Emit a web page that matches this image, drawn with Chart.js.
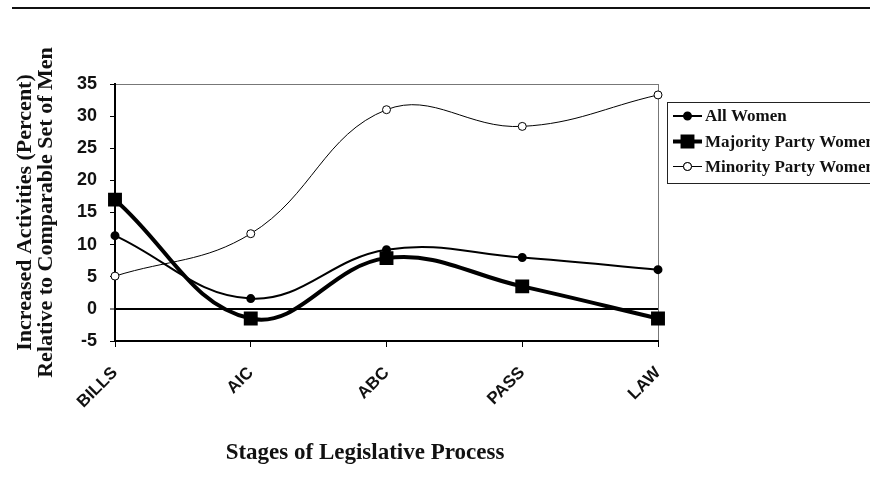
<!DOCTYPE html>
<html>
<head>
<meta charset="utf-8">
<script src="https://cdn.jsdelivr.net/npm/chart.js@4/dist/chart.umd.min.js"></script>
<style>
  html, body { margin: 0; padding: 0; background: #fff; }
  #wrap { width: 870px; height: 489px; }
</style>
</head>
<body>
<div id="wrap"><canvas id="grapharea" width="870" height="489"></canvas></div>
<script>
// stages on the x axis
const stages = ['BILLS', 'AIC', 'ABC', 'PASS', 'LAW'];

// percent increase relative to comparable men
const allWomen      = [11.4, 1.6, 9.2, 8.0, 6.1];
const majorityWomen = [17.0, -1.5, 7.9, 3.5, -1.5];
const minorityWomen = [5.1, 11.7, 31.0, 28.4, 33.3];

const yTicks = [-5, 0, 5, 10, 15, 20, 25, 30, 35];

const serif = "'Liberation Serif', 'Times New Roman', serif";
const sans = "'Liberation Sans', Arial, sans-serif";

// page rule at the top, the x title (sits left of centre in the original) and the legend box
const decoPlugin = {
    id: 'deco',
    beforeDraw(chart){
        const ctx = chart.ctx;
        ctx.save();
        ctx.fillStyle = '#fff';
        ctx.fillRect(0, 0, chart.width, chart.height);
        ctx.fillStyle = '#111';
        ctx.fillRect(12, 7, 870, 2);
        ctx.restore();
    },
    afterDraw(chart){
        const ctx = chart.ctx;
        ctx.save();
        ctx.fillStyle = '#111';
        ctx.font = 'bold 23px ' + serif;
        ctx.textAlign = 'center';
        ctx.textBaseline = 'middle';
        ctx.fillText('Stages of Legislative Process', 365, 453);

        ctx.strokeStyle = '#222';
        ctx.lineWidth = 1;
        ctx.strokeRect(667.5, 102.5, 300, 81);
        const rows = [116, 141.5, 166.5];
        chart.data.datasets.forEach(function(ds, i){
            const y = rows[i];
            ctx.strokeStyle = '#000';
            ctx.lineWidth = ds.borderWidth;
            ctx.beginPath();
            ctx.moveTo(673, y);
            ctx.lineTo(702, y);
            ctx.stroke();
            Chart.helpers.drawPoint(ctx, {
                pointStyle: ds.pointStyle,
                radius: ds.pointRadius,
                rotation: 0,
                borderWidth: 1
            }, 687.5, y);
            ctx.fillStyle = ds.pointBackgroundColor;
            ctx.strokeStyle = '#000';
            ctx.lineWidth = 1;
            ctx.fill();
            ctx.stroke();
            ctx.fillStyle = '#111';
            ctx.font = 'bold 17px ' + serif;
            ctx.textBaseline = 'middle';
            ctx.textAlign = 'left';
            ctx.fillText(ds.label, 705, y + 1);
        });
        ctx.restore();
    }
};

new Chart(document.getElementById('grapharea'), {
    type: 'line',
    data: {
        labels: stages,
        datasets: [{
            label: 'All Women',
            data: allWomen,
            borderColor: '#000',
            borderWidth: 2,
            pointStyle: 'circle',
            pointRadius: 3.5,
            pointBackgroundColor: '#000',
            pointBorderColor: '#000',
            tension: 0.4
        }, {
            label: 'Majority Party Women',
            data: majorityWomen,
            borderColor: '#000',
            borderWidth: 4,
            pointStyle: 'rect',
            pointRadius: 7,
            pointBackgroundColor: '#000',
            pointBorderColor: '#000',
            tension: 0.4
        }, {
            label: 'Minority Party Women',
            data: minorityWomen,
            borderColor: '#000',
            borderWidth: 1,
            pointStyle: 'circle',
            pointRadius: 4,
            pointBackgroundColor: '#fff',
            pointBorderColor: '#000',
            pointBorderWidth: 1,
            tension: 0.4
        }]
    },
    options: {
        responsive: false,
        animation: false,
        devicePixelRatio: 1,
        layout: { padding: { top: 84, right: 212, left: 0, bottom: 0 } },
        plugins: {
            legend: { display: false },
            tooltip: { enabled: false }
        },
        scales: {
            x: {
                offset: false,
                afterFit: s => { s.height = 148; },
                border: { color: '#000', width: 2 },
                grid: {
                    color: c => c.index === stages.length - 1 ? '#777' : 'rgba(0,0,0,0)',
                    lineWidth: 1,
                    tickColor: '#000',
                    tickWidth: 1,
                    tickLength: 6
                },
                ticks: {
                    color: '#111',
                    font: { family: sans, size: 17, weight: 'bold' },
                    minRotation: 45,
                    maxRotation: 45,
                    autoSkip: false,
                    padding: 16
                },
                title: { display: false }
            },
            y: {
                min: -5,
                max: 35,
                afterFit: s => { s.width = 115; },
                afterBuildTicks: s => { s.ticks = yTicks.map(v => ({ value: v })); },
                border: { color: '#000', width: 2 },
                grid: {
                    color: c => c.tick.value === 0 ? '#000' : (c.tick.value === 35 ? '#777' : 'rgba(0,0,0,0)'),
                    lineWidth: c => c.tick.value === 0 ? 2 : 1,
                    tickColor: '#000',
                    tickWidth: 1,
                    tickLength: 5
                },
                ticks: {
                    color: '#111',
                    font: { family: sans, size: 18, weight: 'bold' },
                    padding: 13
                },
                title: {
                    display: true,
                    text: ['Increased Activities (Percent)', 'Relative to Comparable Set of Men'],
                    color: '#111',
                    font: { family: serif, size: 22, weight: 'bold', lineHeight: 0.95 },
                    padding: { top: 15, bottom: 0 }
                }
            }
        }
    },
    plugins: [decoPlugin]
});
</script>
</body>
</html>
